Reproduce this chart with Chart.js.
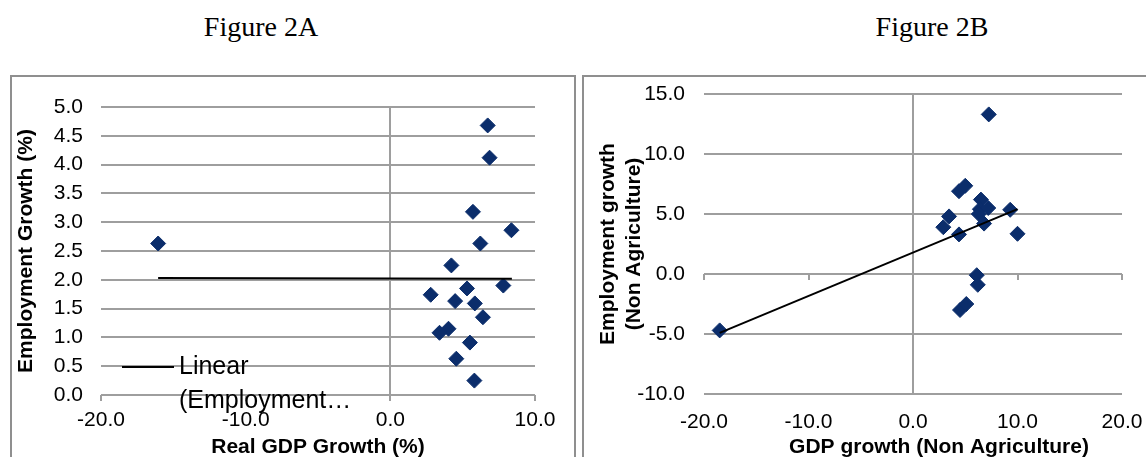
<!DOCTYPE html>
<html>
<head>
<meta charset="utf-8">
<script src="https://cdn.jsdelivr.net/npm/chart.js@4.4.1/dist/chart.umd.min.js"></script>
<style>
  body { margin: 0; width: 1146px; height: 457px; overflow: hidden; position: relative; background: #fff; }
  .fig { position: absolute; top: 13px; width: 200px; text-align: center; font: 28px/28px 'Liberation Serif', 'Times New Roman', serif; color: #000; }
  .box { position: absolute; top: 75px; height: 420px; border: 2px solid #8f8f8f; box-sizing: border-box; }
  canvas { position: absolute; top: 75px; }
</style>
</head>
<body>
<div class="fig" style="left:161px">Figure 2A</div>
<div class="fig" style="left:832px">Figure 2B</div>
<div class="box" style="left:10px; width:566px"></div>
<div class="box" style="left:582px; width:600px"></div>
<canvas id="chartA" width="566" height="400" style="left:10px"></canvas>
<canvas id="chartB" width="564" height="400" style="left:582px"></canvas>
<script>
// Figure 2A: real GDP growth vs employment growth (%)
const gdpA = [-16.05, 6.73, 6.86, 5.71, 8.37, 6.22, 4.22, 5.30, 7.81, 2.79, 4.48, 5.84, 6.40, 4.02, 3.40, 5.50, 4.56, 5.81];
const empA = [2.63, 4.68, 4.12, 3.18, 2.86, 2.63, 2.25, 1.85, 1.90, 1.74, 1.63, 1.59, 1.35, 1.15, 1.08, 0.91, 0.63, 0.25];
const trendAx = [-16.05, 8.4];
const trendAy = [2.03, 2.02];
const ticksAx = [-20, -10, 0, 10];
const ticksAy = [0, 0.5, 1, 1.5, 2, 2.5, 3, 3.5, 4, 4.5, 5];

// Figure 2B: non agriculture GDP growth vs employment growth
const gdpB = [-18.5, 7.25, 4.4, 5.0, 6.5, 6.4, 7.2, 6.3, 6.8, 9.3, 3.45, 2.9, 4.4, 10.0, 6.1, 6.2, 4.5, 5.1];
const empB = [-4.7, 13.3, 6.9, 7.35, 6.2, 5.4, 5.5, 5.0, 4.2, 5.35, 4.8, 3.9, 3.3, 3.35, -0.1, -0.9, -3.0, -2.5];
const trendBx = [-18.5, 10.0];
const trendBy = [-4.9, 5.4];
const ticksBx = [-20, -10, 0, 10, 20];
const ticksBy = [-10, -5, 0, 5, 10, 15];

const gridGray = '#9e9e9e';
const navy = '#0b2d6b';
const fontFamily = "'Liberation Sans', Arial, sans-serif";

Chart.defaults.font.family = fontFamily;
Chart.defaults.font.size = 21;
Chart.defaults.color = '#000';

function pairs(xs, ys) {
    return xs.map((x, i) => ({x: x, y: ys[i]}));
}

// excel style extras: tick marks hanging off the y = 0 line, a legend inside the plot, loose text
const extras = {
    id: 'extras',
    beforeDatasetsDraw(chart) {
        const xs = chart.scales.x, ys = chart.scales.y;
        const y0 = ys.getPixelForValue(0);
        const ctx = chart.ctx;
        ctx.save();
        ctx.strokeStyle = gridGray;
        ctx.lineWidth = 2;
        xs.ticks.forEach(t => {
            const px = Math.round(xs.getPixelForValue(t.value));
            ctx.beginPath();
            ctx.moveTo(px, y0);
            ctx.lineTo(px, y0 + 6);
            ctx.stroke();
        });
        ctx.restore();
    },
    afterDraw(chart, args, opts) {
        const ctx = chart.ctx;
        ctx.save();
        ctx.fillStyle = '#000';
        ctx.textBaseline = 'middle';
        if (opts.legend) {
            const lg = opts.legend;
            ctx.strokeStyle = '#000';
            ctx.lineWidth = 2;
            ctx.beginPath();
            ctx.moveTo(lg.x1, lg.y);
            ctx.lineTo(lg.x2, lg.y);
            ctx.stroke();
            ctx.font = lg.size + 'px ' + fontFamily;
            ctx.textAlign = 'left';
            lg.lines.forEach((s, i) => ctx.fillText(s, lg.textX, lg.y + i * lg.gap));
        }
        (opts.notes || []).forEach(n => {
            ctx.font = n.font;
            ctx.textAlign = 'center';
            ctx.fillText(n.text, n.x, n.y);
        });
        ctx.restore();
    }
};

function makeChart(id, cfg) {
    return new Chart(document.getElementById(id), {
        type: 'scatter',
        data: {
            datasets: [{
                data: cfg.trend,
                showLine: true,
                borderColor: '#000',
                borderWidth: 2,
                pointRadius: 0,
                order: 0
            }, {
                data: cfg.points,
                pointStyle: 'rectRot',
                pointRadius: 7.5,
                pointHoverRadius: 7.5,
                backgroundColor: navy,
                borderColor: navy,
                borderWidth: 1,
                order: 1
            }]
        },
        options: {
            responsive: false,
            animation: false,
            events: [],
            layout: { padding: cfg.padding },
            plugins: {
                legend: { display: false },
                tooltip: { enabled: false },
                extras: cfg.extras
            },
            scales: {
                x: {
                    min: cfg.xTicks[0],
                    max: cfg.xTicks[cfg.xTicks.length - 1],
                    afterBuildTicks: s => { s.ticks = cfg.xTicks.map(v => ({value: v})); },
                    // fixed axis sizes so the plot area lands where the original has it
                    afterFit: s => { s.height = cfg.xHeight; s.paddingLeft = 0; s.paddingRight = 0; },
                    ticks: { callback: v => v.toFixed(1), padding: cfg.xPad, maxRotation: 0, autoSkip: false },
                    grid: { color: c => (c.tick && c.tick.value === 0) ? gridGray : 'rgba(0,0,0,0)', lineWidth: 2, drawTicks: false },
                    border: { display: false },
                    title: cfg.xTitle
                },
                y: {
                    min: cfg.yTicks[0],
                    max: cfg.yTicks[cfg.yTicks.length - 1],
                    afterBuildTicks: s => { s.ticks = cfg.yTicks.map(v => ({value: v})); },
                    afterFit: s => { s.width = cfg.yWidth; s.paddingTop = 0; s.paddingBottom = 0; },
                    ticks: { callback: v => v.toFixed(1), padding: cfg.yPad, autoSkip: false },
                    grid: { color: gridGray, lineWidth: 2, drawTicks: false },
                    border: { display: false },
                    title: cfg.yTitle
                }
            }
        },
        plugins: [extras]
    });
}

makeChart('chartA', {
    points: pairs(gdpA, empA),
    trend: pairs(trendAx, trendAy),
    xTicks: ticksAx,
    yTicks: ticksAy,
    padding: { left: 0, right: 41, top: 32, bottom: 0 },
    xHeight: 80,
    yWidth: 91,
    xPad: 13,
    yPad: 18,
    xTitle: { display: true, text: 'Real GDP Growth (%)', font: { size: 21, weight: 'bold' }, padding: { top: 0, bottom: 15 } },
    yTitle: { display: true, text: 'Employment Growth (%)', font: { size: 21, weight: 'bold' }, padding: { top: 4, bottom: 0 } },
    extras: {
        legend: { x1: 112, x2: 164, y: 292, textX: 169, gap: 34, size: 25, lines: ['Linear', '(Employment\u2026'] }
    }
});

makeChart('chartB', {
    points: pairs(gdpB, empB),
    trend: pairs(trendBx, trendBy),
    xTicks: ticksBx,
    yTicks: ticksBy,
    padding: { left: 0, right: 24, top: 19, bottom: 0 },
    xHeight: 81,
    yWidth: 122,
    xPad: 16,
    yPad: 19,
    xTitle: { display: false },
    yTitle: { display: true, text: ['Employment growth', '(Non Agriculture)'], font: { size: 21, weight: 'bold' }, padding: { top: 14, bottom: 0 } },
    extras: {
        notes: [{ text: 'GDP growth (Non Agriculture)', x: 357, y: 372, font: 'bold 21px ' + fontFamily }]
    }
});
</script>
</body>
</html>
